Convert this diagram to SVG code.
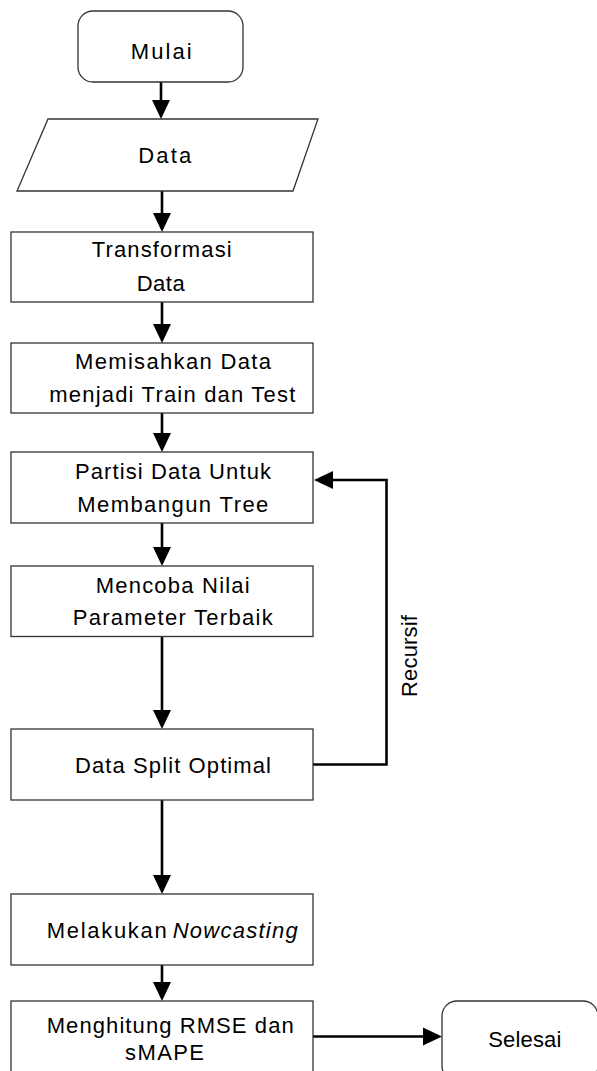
<svg xmlns="http://www.w3.org/2000/svg" width="597" height="1071" viewBox="0 0 597 1071">
  <style>
    .box { fill: #ffffff; stroke: #333333; stroke-width: 1.3; }
    .conn { fill: none; stroke: #000000; stroke-width: 2.6; }
    .lbl { font-family: "Liberation Sans", Arial, sans-serif; font-size: 22px; fill: #000000; }
  </style>
  <defs>
    <marker id="arrow" markerUnits="userSpaceOnUse" markerWidth="19" markerHeight="19" refX="0" refY="9" orient="auto" viewBox="0 0 19 18">
      <path d="M0,0 L19,9 L0,18 z" fill="#000000"/>
    </marker>
  </defs>
  <rect width="597" height="1071" fill="#ffffff"/>

  <g id="connectors">
    <line class="conn" x1="161" y1="82" x2="161" y2="100" marker-end="url(#arrow)"/>
    <line class="conn" x1="162" y1="191" x2="162" y2="213" marker-end="url(#arrow)"/>
    <line class="conn" x1="162" y1="302" x2="162" y2="324" marker-end="url(#arrow)"/>
    <line class="conn" x1="162" y1="413" x2="162" y2="433" marker-end="url(#arrow)"/>
    <line class="conn" x1="162" y1="523" x2="162" y2="547" marker-end="url(#arrow)"/>
    <line class="conn" x1="162" y1="637" x2="162" y2="710" marker-end="url(#arrow)"/>
    <line class="conn" x1="162" y1="800" x2="162" y2="875" marker-end="url(#arrow)"/>
    <line class="conn" x1="162" y1="965" x2="162" y2="982" marker-end="url(#arrow)"/>
    <line class="conn" x1="313" y1="1036.5" x2="423" y2="1036.5" marker-end="url(#arrow)"/>
    <polyline class="conn" points="313,764.5 386.5,764.5 386.5,480 333,480" marker-end="url(#arrow)"/>
    <text class="lbl" transform="translate(417,656) rotate(-90)" text-anchor="middle" textLength="82" lengthAdjust="spacing">Recursif</text>
  </g>

  <g id="mulai">
    <rect class="box" x="78" y="11" width="165" height="71" rx="15" ry="15"/>
    <text class="lbl" x="130.7" y="59.3" textLength="61" lengthAdjust="spacing">Mulai</text>
  </g>

  <g id="data">
    <polygon class="box" points="48,119 318,119 293,191 17,191"/>
    <text class="lbl" x="138.3" y="163.3" textLength="53" lengthAdjust="spacing">Data</text>
  </g>

  <g id="transformasi">
    <rect class="box" x="11" y="232" width="302" height="70"/>
    <text class="lbl" x="91.7" y="257.3" textLength="140" lengthAdjust="spacing">Transformasi</text>
    <text class="lbl" x="136.7" y="290.7" textLength="48" lengthAdjust="spacing">Data</text>
  </g>

  <g id="memisahkan">
    <rect class="box" x="11" y="343" width="302" height="70"/>
    <text class="lbl" x="75" y="369.3" textLength="196" lengthAdjust="spacing">Memisahkan Data</text>
    <text class="lbl" x="49.3" y="401.7" textLength="246" lengthAdjust="spacing">menjadi Train dan Test</text>
  </g>

  <g id="partisi">
    <rect class="box" x="11" y="452" width="302" height="71"/>
    <text class="lbl" x="75" y="479.3" textLength="196" lengthAdjust="spacing">Partisi Data Untuk</text>
    <text class="lbl" x="77.3" y="511.7" textLength="191" lengthAdjust="spacing">Membangun Tree</text>
  </g>

  <g id="mencoba">
    <rect class="box" x="11" y="566" width="302" height="70.5"/>
    <text class="lbl" x="95.7" y="592.7" textLength="154" lengthAdjust="spacing">Mencoba Nilai</text>
    <text class="lbl" x="72.7" y="625" textLength="200" lengthAdjust="spacing">Parameter Terbaik</text>
  </g>

  <g id="datasplit">
    <rect class="box" x="11" y="729" width="302" height="71"/>
    <text class="lbl" x="75" y="773.3" textLength="196" lengthAdjust="spacing">Data Split Optimal</text>
  </g>

  <g id="nowcasting">
    <rect class="box" x="11" y="894" width="302" height="71"/>
    <text class="lbl" x="46.7" y="938.3" textLength="120" lengthAdjust="spacing">Melakukan</text>
    <text class="lbl" x="172.7" y="938.3" font-style="italic" textLength="125" lengthAdjust="spacing">Nowcasting</text>
  </g>

  <g id="menghitung">
    <rect class="box" x="11" y="1001" width="302" height="75"/>
    <text class="lbl" x="46.7" y="1033.3" textLength="247" lengthAdjust="spacing">Menghitung RMSE dan</text>
    <text class="lbl" x="125" y="1060" textLength="79" lengthAdjust="spacing">sMAPE</text>
  </g>

  <g id="selesai">
    <rect class="box" x="442" y="1001" width="156" height="80" rx="15" ry="15"/>
    <text class="lbl" x="488.3" y="1046.7" textLength="73" lengthAdjust="spacing">Selesai</text>
  </g>
</svg>
